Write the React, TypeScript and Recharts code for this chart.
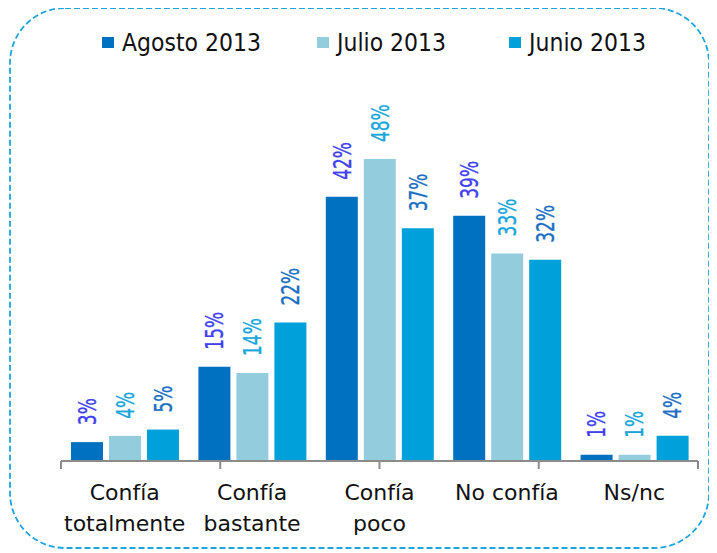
import { BarChart, Bar, XAxis, YAxis, Legend, LabelList } from "recharts";

// categories and survey values (%)
const categories = ["Confía\ntotalmente", "Confía\nbastante", "Confía\npoco", "No confía", "Ns/nc"];
const seriesNames = ["Agosto 2013", "Julio 2013", "Junio 2013"];
const agosto = [3, 15, 42, 39, 1];
const julio = [4, 14, 48, 33, 1];
const junio = [5, 22, 37, 32, 4];
const boundaryTicks = [0, 1, 2, 3, 4, 5];

const barColors = ["#0070c0", "#93cddd", "#00a1da"];
const labelColors = ["#4040f0", "#17a6dc", "#1b6fc2"];

const textFont = "'DejaVu Sans', Verdana, sans-serif";

const data = categories.map((name, i) => ({
  name,
  agosto: agosto[i],
  julio: julio[i],
  junio: junio[i],
}));

// rotated value label above each bar, squeezed along its length
const makeLabel = (color: string) => (props: any) => {
  const { x, y, width, value } = props;
  const cx = Number(x) + Number(width) / 2;
  const cy = Number(y) - 17;
  return (
    <text
      x={0}
      y={0}
      transform={`translate(${cx} ${cy}) rotate(-90) scale(0.68 1)`}
      textAnchor="start"
      dominantBaseline="central"
      fill={color}
      stroke={color}
      strokeWidth={0.35}
      fontSize={25}
      fontFamily={textFont}
    >
      {value}%
    </text>
  );
};

const CategoryTick = (props: any) => {
  const { x, y, payload } = props;
  const lines = String(payload.value).split("\n");
  return (
    <text x={x} y={y} textAnchor="middle" fill="#111" fontSize={22} fontFamily={textFont}>
      {lines.map((line, i) => (
        <tspan key={i} x={x} dy={i === 0 ? 29 : 31}>
          {line}
        </tspan>
      ))}
    </text>
  );
};

// boundary axis only shows tick marks, no text
const NoText = () => <g />;

const legendLeft = [102, 317, 509];

const renderLegend = () => (
  <div style={{ position: "relative", width: 717, height: 60 }}>
    {seriesNames.map((name, i) => (
      <div
        key={name}
        style={{
          position: "absolute",
          left: legendLeft[i],
          top: 27,
          height: 30,
          display: "flex",
          alignItems: "center",
          fontFamily: textFont,
          fontSize: 25,
          color: "#111",
          whiteSpace: "nowrap",
        }}
      >
        <span style={{ width: 12, height: 11, background: barColors[i], marginRight: 8, display: "inline-block" }} />
        <span style={{ display: "inline-block", transform: "scaleX(0.88)", transformOrigin: "left center" }}>{name}</span>
      </div>
    ))}
  </div>
);

export default function App() {
  return (
    <div style={{ position: "relative", width: 717, height: 553, margin: "-8px 0 0 -8px", background: "#fff" }}>
      <svg width={717} height={553} style={{ position: "absolute", left: 0, top: 0, pointerEvents: "none" }}>
        <rect x={10} y={8} width={699} height={540} rx={55} ry={55} fill="none" stroke="#1ea5e0" strokeWidth={1.8} strokeDasharray="6 3" />
      </svg>
      <BarChart
        width={717}
        height={553}
        data={data}
        margin={{ top: 146.5, left: 61, right: 19, bottom: 12 }}
        barSize={32}
        barGap={6}
      >
        <XAxis
          xAxisId="b_cat"
          dataKey="name"
          height={70}
          axisLine={false}
          tickLine={false}
          tickSize={0}
          tickMargin={0}
          interval={0}
          tick={<CategoryTick />}
        />
        <XAxis
          xAxisId="a_num"
          type="number"
          domain={[0, 5]}
          ticks={boundaryTicks}
          allowDataOverflow
          interval={0}
          tick={<NoText />}
          tickLine={{ stroke: "#8c8c8c", strokeWidth: 2 }}
          tickSize={8}
          height={10}
          stroke="#8c8c8c"
          strokeWidth={2}
        />
        <YAxis hide domain={[0, 50]} />
        <Legend
          verticalAlign="middle"
          align="center"
          layout="horizontal"
          content={renderLegend}
          wrapperStyle={{ top: 0, left: 0, width: 717, height: 60 }}
        />
        <Bar xAxisId="b_cat" dataKey="agosto" name={seriesNames[0]} fill={barColors[0]} isAnimationActive={false}>
          <LabelList dataKey="agosto" content={makeLabel(labelColors[0])} />
        </Bar>
        <Bar xAxisId="b_cat" dataKey="julio" name={seriesNames[1]} fill={barColors[1]} isAnimationActive={false}>
          <LabelList dataKey="julio" content={makeLabel(labelColors[1])} />
        </Bar>
        <Bar xAxisId="b_cat" dataKey="junio" name={seriesNames[2]} fill={barColors[2]} isAnimationActive={false}>
          <LabelList dataKey="junio" content={makeLabel(labelColors[2])} />
        </Bar>
      </BarChart>
    </div>
  );
}
